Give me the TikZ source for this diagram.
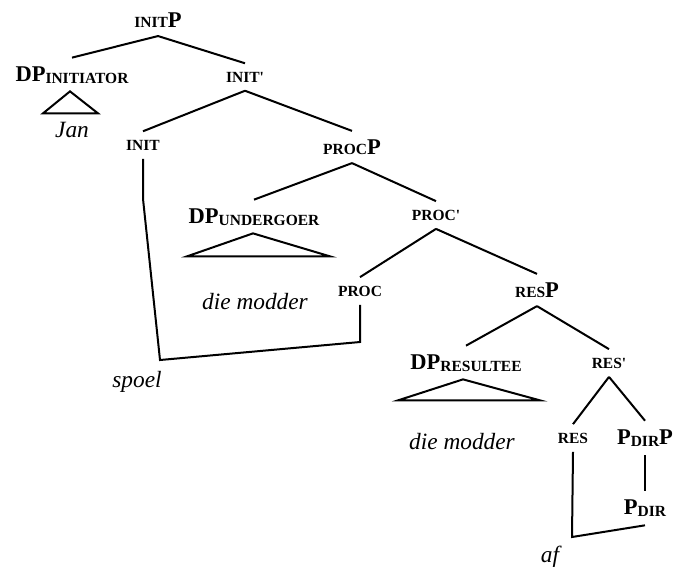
\documentclass[tikz,border=0pt]{standalone}
\usepackage{fontspec}
\setmainfont{Liberation Serif}
\usepackage{tikz}
\usetikzlibrary{positioning, calc}
\definecolor{mydark}{RGB}{0,0,0}
\newcommand{\smc}[1]{{\fontsize{9.3}{10}\selectfont #1}}
\newcommand{\lowsub}[1]{\raisebox{-1.5pt}{\smc{#1}}}
\newcommand{\barmark}{\textquotesingle}
\tikzset{
  lab/.style={font=\fontsize{13.5}{15}\selectfont\bfseries, inner xsep=2pt, inner ysep=5pt, color=mydark},
  word/.style={font=\fontsize{14}{16}\selectfont\itshape, inner sep=2pt, color=mydark},
  branch/.style={line width=1.2pt, color=mydark},
  tri/.style={line width=1.2pt, color=mydark, line join=miter}
}
\begin{document}
\begin{tikzpicture}[x=0.6pt, y=-0.6pt]
  \useasboundingbox (0,0) rectangle (675,570);

  % Labels of the tree
  \node[lab] (initP)   at (158,20)  {\smc{INIT}P};
  \node[lab] (dpinit)  at (72,75)   {DP\lowsub{INITIATOR}};
  \node[lab] (initbar) at (245,77)  {\smc{INIT\barmark}};
  \node[lab] (init)    at (143,145) {\smc{INIT}};
  \node[lab] (procP)   at (352,147) {\smc{PROC}P};
  \node[lab] (dpund)   at (254,217) {DP\lowsub{UNDERGOER}};
  \node[lab] (procbar) at (436,215) {\smc{PROC\barmark}};
  \node[lab] (proc)    at (360,291) {\smc{PROC}};
  \node[lab] (resP)    at (537,290) {\smc{RES}P};
  \node[lab] (dpres)   at (466,363) {DP\lowsub{RESULTEE}};
  \node[lab] (resbar)  at (609,363) {\smc{RES\barmark}};
  \node[lab] (res)     at (573,438) {\smc{RES}};
  \node[lab] (pdirP)   at (645,438) {P\lowsub{DIR}P};
  \node[lab] (pdir)    at (645,508) {P\lowsub{DIR}};

  % Words
  \node[word] (jan)   at (72,130)  {Jan};
  \node[word] (mod1)  at (255,302) {die modder};
  \node[word] (mod2)  at (462,442) {die modder};
  \node[word] (spoel) at (137,382) {spoel};
  \node[word] (af)    at (550,557) {af};

  % Branches
  \draw[branch] (initP.south) -- (dpinit.north);
  \draw[branch] (initP.south) -- (initbar.north);
  \draw[branch] (initbar.south) -- (init.north);
  \draw[branch] (initbar.south) -- (procP.north);
  \draw[branch] (procP.south) -- (dpund.north);
  \draw[branch] (procP.south) -- (procbar.north);
  \draw[branch] (procbar.south) -- (proc.north);
  \draw[branch] (procbar.south) -- (resP.north);
  \draw[branch] (resP.south) -- (dpres.north);
  \draw[branch] (resP.south) -- (resbar.north);
  \draw[branch] (resbar.south) -- (res.north);
  \draw[branch] (resbar.south) -- (pdirP.north);
  \draw[branch] (pdirP.south) -- (pdir.north);

  % Triangles
  \draw[tri] (dpinit.south) ++(-2,-1) -- ++(-27,22) -- ++(55,0) -- cycle;
  \draw[tri] (dpund.south) ++(-1,-1) -- ++(-66,23) -- ++(143,0) -- cycle;
  \draw[tri] (dpres.south) ++(-3,-1) -- ++(-65,21) -- ++(142,0) -- cycle;

  % Head movement lines
  \coordinate (c1) at (160,360);
  \coordinate (c2) at (360,342);
  \coordinate (c3) at (572,537);
  \draw[branch] (init.south) -- ++(0,40) -- (c1) -- (c2) -- (proc.south);
  \draw[branch] (res.south) -- (c3) -- (pdir.south);
\end{tikzpicture}
\end{document}
